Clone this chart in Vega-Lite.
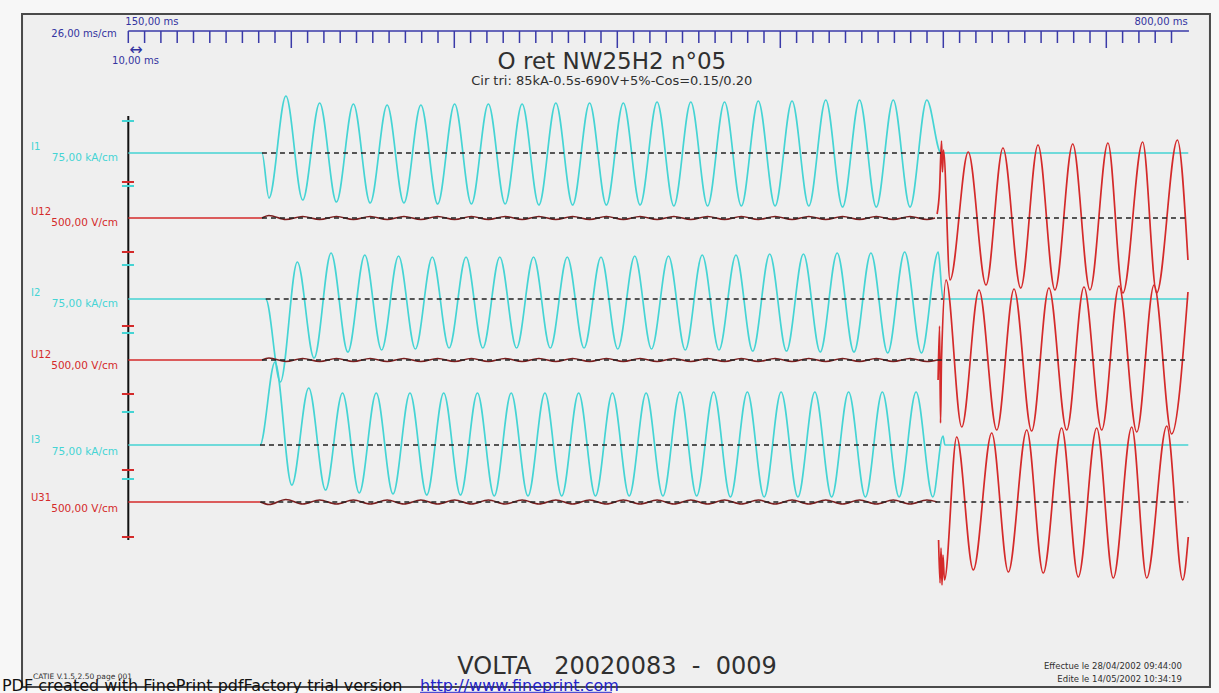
{
"$schema": "https://vega.github.io/schema/vega-lite/v6.json",
"width": 1219, "height": 693,
"autosize": {"type": "none"},
"padding": 0,
"background": "#f7f7f7",
"config": {"view": {"stroke": null}, "font": "DejaVu Sans"},
"datasets": {
  "frame": [{"t": 84.8, "t2": 813.6, "y": 14, "y2": 687}],
  "ruler": [{"t": 150, "t2": 800.7, "y": 31}],
  "minor": [{"t":150},{"t":160},{"t":170},{"t":180},{"t":190},{"t":200},{"t":210},{"t":220},{"t":230},{"t":240},{"t":260},{"t":270},{"t":280},{"t":290},{"t":300},{"t":310},{"t":320},{"t":330},{"t":340},{"t":360},{"t":370},{"t":380},{"t":390},{"t":400},{"t":410},{"t":420},{"t":430},{"t":440},{"t":460},{"t":470},{"t":480},{"t":490},{"t":500},{"t":510},{"t":520},{"t":530},{"t":540},{"t":560},{"t":570},{"t":580},{"t":590},{"t":600},{"t":610},{"t":620},{"t":630},{"t":640},{"t":660},{"t":670},{"t":680},{"t":690},{"t":700},{"t":710},{"t":720},{"t":730},{"t":740},{"t":760},{"t":770},{"t":780},{"t":790}],
  "major": [{"t":250},{"t":350},{"t":450},{"t":550},{"t":650},{"t":750}],
  "axisline": [{"t": 150, "y": 116, "y2": 540}],
  "scaleticks": [{"y":121,"k":"I"},{"y":186,"k":"I"},{"y":265,"k":"I"},{"y":333,"k":"I"},{"y":412,"k":"I"},{"y":479,"k":"I"},{"y":182,"k":"U"},{"y":252,"k":"U"},{"y":326,"k":"U"},{"y":394,"k":"U"},{"y":470,"k":"U"},{"y":537,"k":"U"}],
  "zeros": [{"t":232.0,"t2":648.6,"y":153},{"t":232.0,"t2":800.3,"y":218},{"t":234.3,"t2":649.8,"y":299},{"t":232.0,"t2":800.3,"y":360},{"t":230.8,"t2":649.8,"y":445},{"t":231.0,"t2":800.3,"y":502}],
  "traces": [
{"s":"I1","k":"I","t":150,"y":153},{"s":"I1","k":"I","t":232.0,"y":153},{"s":"I1","k":"I","t":236.3,"y":198},{"s":"I1","k":"I","t":246.7,"y":96},{"s":"I1","k":"I","t":257.0,"y":200},{"s":"I1","k":"I","t":267.4,"y":103},{"s":"I1","k":"I","t":277.7,"y":202},{"s":"I1","k":"I","t":288.1,"y":104},{"s":"I1","k":"I","t":298.4,"y":203},{"s":"I1","k":"I","t":308.8,"y":105},{"s":"I1","k":"I","t":319.1,"y":203},{"s":"I1","k":"I","t":329.5,"y":105},{"s":"I1","k":"I","t":339.8,"y":204},{"s":"I1","k":"I","t":350.2,"y":104},{"s":"I1","k":"I","t":360.5,"y":204},{"s":"I1","k":"I","t":370.9,"y":104},{"s":"I1","k":"I","t":381.2,"y":204},{"s":"I1","k":"I","t":391.6,"y":104},{"s":"I1","k":"I","t":401.9,"y":205},{"s":"I1","k":"I","t":412.3,"y":103},{"s":"I1","k":"I","t":422.6,"y":205},{"s":"I1","k":"I","t":433.0,"y":103},{"s":"I1","k":"I","t":443.3,"y":205},{"s":"I1","k":"I","t":453.7,"y":103},{"s":"I1","k":"I","t":464.0,"y":205},{"s":"I1","k":"I","t":474.4,"y":102},{"s":"I1","k":"I","t":484.7,"y":206},{"s":"I1","k":"I","t":495.1,"y":102},{"s":"I1","k":"I","t":505.4,"y":206},{"s":"I1","k":"I","t":515.8,"y":102},{"s":"I1","k":"I","t":526.1,"y":206},{"s":"I1","k":"I","t":536.5,"y":101},{"s":"I1","k":"I","t":546.8,"y":206},{"s":"I1","k":"I","t":557.2,"y":101},{"s":"I1","k":"I","t":567.5,"y":206},{"s":"I1","k":"I","t":577.9,"y":100},{"s":"I1","k":"I","t":588.2,"y":207},{"s":"I1","k":"I","t":598.6,"y":100},{"s":"I1","k":"I","t":608.9,"y":207},{"s":"I1","k":"I","t":619.3,"y":100},{"s":"I1","k":"I","t":629.6,"y":207},{"s":"I1","k":"I","t":639.9,"y":100},{"s":"I1","k":"I","t":648.6,"y":153},{"s":"I1","k":"I","t":800.3,"y":153},
{"s":"I2","k":"I","t":150,"y":299},{"s":"I2","k":"I","t":234.3,"y":299},{"s":"I2","k":"I","t":243.3,"y":382},{"s":"I2","k":"I","t":253.7,"y":262},{"s":"I2","k":"I","t":264.0,"y":358},{"s":"I2","k":"I","t":274.4,"y":253},{"s":"I2","k":"I","t":284.7,"y":352},{"s":"I2","k":"I","t":295.1,"y":255},{"s":"I2","k":"I","t":305.4,"y":350},{"s":"I2","k":"I","t":315.8,"y":256},{"s":"I2","k":"I","t":326.1,"y":349},{"s":"I2","k":"I","t":336.5,"y":257},{"s":"I2","k":"I","t":346.8,"y":348},{"s":"I2","k":"I","t":357.2,"y":257},{"s":"I2","k":"I","t":367.5,"y":348},{"s":"I2","k":"I","t":377.9,"y":257},{"s":"I2","k":"I","t":388.2,"y":348},{"s":"I2","k":"I","t":398.6,"y":257},{"s":"I2","k":"I","t":408.9,"y":348},{"s":"I2","k":"I","t":419.3,"y":257},{"s":"I2","k":"I","t":429.6,"y":348},{"s":"I2","k":"I","t":440.0,"y":257},{"s":"I2","k":"I","t":450.3,"y":349},{"s":"I2","k":"I","t":460.7,"y":256},{"s":"I2","k":"I","t":471.0,"y":349},{"s":"I2","k":"I","t":481.4,"y":256},{"s":"I2","k":"I","t":491.7,"y":350},{"s":"I2","k":"I","t":502.1,"y":255},{"s":"I2","k":"I","t":512.4,"y":350},{"s":"I2","k":"I","t":522.8,"y":255},{"s":"I2","k":"I","t":533.1,"y":351},{"s":"I2","k":"I","t":543.5,"y":254},{"s":"I2","k":"I","t":553.8,"y":351},{"s":"I2","k":"I","t":564.2,"y":254},{"s":"I2","k":"I","t":574.5,"y":352},{"s":"I2","k":"I","t":584.9,"y":253},{"s":"I2","k":"I","t":595.2,"y":352},{"s":"I2","k":"I","t":605.6,"y":253},{"s":"I2","k":"I","t":615.9,"y":353},{"s":"I2","k":"I","t":626.3,"y":252},{"s":"I2","k":"I","t":636.6,"y":353},{"s":"I2","k":"I","t":646.9,"y":252},{"s":"I2","k":"I","t":649.8,"y":299},{"s":"I2","k":"I","t":800.3,"y":299},
{"s":"I3","k":"I","t":150,"y":445},{"s":"I3","k":"I","t":230.8,"y":445},{"s":"I3","k":"I","t":240.0,"y":362},{"s":"I3","k":"I","t":250.3,"y":485},{"s":"I3","k":"I","t":260.7,"y":388},{"s":"I3","k":"I","t":271.0,"y":490},{"s":"I3","k":"I","t":281.4,"y":393},{"s":"I3","k":"I","t":291.7,"y":493},{"s":"I3","k":"I","t":302.1,"y":393},{"s":"I3","k":"I","t":312.4,"y":494},{"s":"I3","k":"I","t":322.8,"y":393},{"s":"I3","k":"I","t":333.1,"y":495},{"s":"I3","k":"I","t":343.5,"y":393},{"s":"I3","k":"I","t":353.8,"y":495},{"s":"I3","k":"I","t":364.2,"y":393},{"s":"I3","k":"I","t":374.5,"y":496},{"s":"I3","k":"I","t":384.9,"y":393},{"s":"I3","k":"I","t":395.2,"y":496},{"s":"I3","k":"I","t":405.6,"y":393},{"s":"I3","k":"I","t":415.9,"y":496},{"s":"I3","k":"I","t":426.3,"y":393},{"s":"I3","k":"I","t":436.6,"y":496},{"s":"I3","k":"I","t":447.0,"y":393},{"s":"I3","k":"I","t":457.3,"y":496},{"s":"I3","k":"I","t":467.7,"y":393},{"s":"I3","k":"I","t":478.0,"y":496},{"s":"I3","k":"I","t":488.4,"y":392},{"s":"I3","k":"I","t":498.7,"y":496},{"s":"I3","k":"I","t":509.1,"y":392},{"s":"I3","k":"I","t":519.4,"y":497},{"s":"I3","k":"I","t":529.8,"y":392},{"s":"I3","k":"I","t":540.1,"y":497},{"s":"I3","k":"I","t":550.5,"y":392},{"s":"I3","k":"I","t":560.8,"y":497},{"s":"I3","k":"I","t":571.2,"y":392},{"s":"I3","k":"I","t":581.5,"y":497},{"s":"I3","k":"I","t":591.9,"y":392},{"s":"I3","k":"I","t":602.2,"y":497},{"s":"I3","k":"I","t":612.6,"y":392},{"s":"I3","k":"I","t":622.9,"y":497},{"s":"I3","k":"I","t":633.3,"y":392},{"s":"I3","k":"I","t":643.6,"y":497},{"s":"I3","k":"I","t":649.8,"y":436},{"s":"I3","k":"I","t":651.0,"y":445},{"s":"I3","k":"I","t":800.3,"y":445},
{"s":"U1p","k":"U","t":150,"y":218},{"s":"U1p","k":"U","t":232.0,"y":218},
{"s":"U2p","k":"U","t":150,"y":360},{"s":"U2p","k":"U","t":232.0,"y":360},
{"s":"U3p","k":"U","t":150,"y":502},{"s":"U3p","k":"U","t":231.0,"y":502},
{"s":"U1a","k":"A","t":232.0,"y":218},{"s":"U1a","k":"A","t":236.3,"y":215.5},{"s":"U1a","k":"A","t":246.7,"y":219.5},{"s":"U1a","k":"A","t":257.0,"y":216.5},{"s":"U1a","k":"A","t":267.4,"y":219.5},{"s":"U1a","k":"A","t":277.7,"y":216.5},{"s":"U1a","k":"A","t":288.1,"y":219.5},{"s":"U1a","k":"A","t":298.4,"y":216.5},{"s":"U1a","k":"A","t":308.8,"y":219.5},{"s":"U1a","k":"A","t":319.1,"y":216.5},{"s":"U1a","k":"A","t":329.5,"y":219.5},{"s":"U1a","k":"A","t":339.8,"y":216.5},{"s":"U1a","k":"A","t":350.2,"y":219.5},{"s":"U1a","k":"A","t":360.5,"y":216.5},{"s":"U1a","k":"A","t":370.9,"y":219.5},{"s":"U1a","k":"A","t":381.2,"y":216.5},{"s":"U1a","k":"A","t":391.6,"y":219.5},{"s":"U1a","k":"A","t":401.9,"y":216.5},{"s":"U1a","k":"A","t":412.3,"y":219.5},{"s":"U1a","k":"A","t":422.6,"y":216.5},{"s":"U1a","k":"A","t":433.0,"y":219.5},{"s":"U1a","k":"A","t":443.3,"y":216.5},{"s":"U1a","k":"A","t":453.7,"y":219.5},{"s":"U1a","k":"A","t":464.0,"y":216.5},{"s":"U1a","k":"A","t":474.4,"y":219.5},{"s":"U1a","k":"A","t":484.7,"y":216.5},{"s":"U1a","k":"A","t":495.1,"y":219.5},{"s":"U1a","k":"A","t":505.4,"y":216.5},{"s":"U1a","k":"A","t":515.8,"y":219.5},{"s":"U1a","k":"A","t":526.1,"y":216.5},{"s":"U1a","k":"A","t":536.5,"y":219.5},{"s":"U1a","k":"A","t":546.8,"y":216.5},{"s":"U1a","k":"A","t":557.2,"y":219.5},{"s":"U1a","k":"A","t":567.5,"y":216.5},{"s":"U1a","k":"A","t":577.9,"y":219.5},{"s":"U1a","k":"A","t":588.2,"y":216.5},{"s":"U1a","k":"A","t":598.6,"y":219.5},{"s":"U1a","k":"A","t":608.9,"y":216.5},{"s":"U1a","k":"A","t":619.3,"y":219.5},{"s":"U1a","k":"A","t":629.6,"y":216.5},{"s":"U1a","k":"A","t":639.9,"y":219.5},{"s":"U1a","k":"A","t":644.9,"y":218},
{"s":"U2a","k":"A","t":232.0,"y":360},{"s":"U2a","k":"A","t":236.3,"y":358},{"s":"U2a","k":"A","t":246.7,"y":361.5},{"s":"U2a","k":"A","t":257.0,"y":358.5},{"s":"U2a","k":"A","t":267.4,"y":361.5},{"s":"U2a","k":"A","t":277.7,"y":358.5},{"s":"U2a","k":"A","t":288.1,"y":361.5},{"s":"U2a","k":"A","t":298.4,"y":358.5},{"s":"U2a","k":"A","t":308.8,"y":361.5},{"s":"U2a","k":"A","t":319.1,"y":358.5},{"s":"U2a","k":"A","t":329.5,"y":361.5},{"s":"U2a","k":"A","t":339.8,"y":358.5},{"s":"U2a","k":"A","t":350.2,"y":361.5},{"s":"U2a","k":"A","t":360.5,"y":358.5},{"s":"U2a","k":"A","t":370.9,"y":361.5},{"s":"U2a","k":"A","t":381.2,"y":358.5},{"s":"U2a","k":"A","t":391.6,"y":361.5},{"s":"U2a","k":"A","t":401.9,"y":358.5},{"s":"U2a","k":"A","t":412.3,"y":361.5},{"s":"U2a","k":"A","t":422.6,"y":358.5},{"s":"U2a","k":"A","t":433.0,"y":361.5},{"s":"U2a","k":"A","t":443.3,"y":358.5},{"s":"U2a","k":"A","t":453.7,"y":361.5},{"s":"U2a","k":"A","t":464.0,"y":358.5},{"s":"U2a","k":"A","t":474.4,"y":361.5},{"s":"U2a","k":"A","t":484.7,"y":358.5},{"s":"U2a","k":"A","t":495.1,"y":361.5},{"s":"U2a","k":"A","t":505.4,"y":358.5},{"s":"U2a","k":"A","t":515.8,"y":361.5},{"s":"U2a","k":"A","t":526.1,"y":358.5},{"s":"U2a","k":"A","t":536.5,"y":361.5},{"s":"U2a","k":"A","t":546.8,"y":358.5},{"s":"U2a","k":"A","t":557.2,"y":361.5},{"s":"U2a","k":"A","t":567.5,"y":358.5},{"s":"U2a","k":"A","t":577.9,"y":361.5},{"s":"U2a","k":"A","t":588.2,"y":358.5},{"s":"U2a","k":"A","t":598.6,"y":361.5},{"s":"U2a","k":"A","t":608.9,"y":358.5},{"s":"U2a","k":"A","t":619.3,"y":361.5},{"s":"U2a","k":"A","t":629.6,"y":358.5},{"s":"U2a","k":"A","t":639.9,"y":361.5},{"s":"U2a","k":"A","t":646.2,"y":360},
{"s":"U3a","k":"A","t":231.0,"y":502},{"s":"U3a","k":"A","t":236.3,"y":504.5},{"s":"U3a","k":"A","t":246.7,"y":499.5},{"s":"U3a","k":"A","t":257.0,"y":504},{"s":"U3a","k":"A","t":267.4,"y":500},{"s":"U3a","k":"A","t":277.7,"y":504},{"s":"U3a","k":"A","t":288.1,"y":500},{"s":"U3a","k":"A","t":298.4,"y":504},{"s":"U3a","k":"A","t":308.8,"y":500},{"s":"U3a","k":"A","t":319.1,"y":504},{"s":"U3a","k":"A","t":329.5,"y":500},{"s":"U3a","k":"A","t":339.8,"y":504},{"s":"U3a","k":"A","t":350.2,"y":500},{"s":"U3a","k":"A","t":360.5,"y":504},{"s":"U3a","k":"A","t":370.9,"y":500},{"s":"U3a","k":"A","t":381.2,"y":504},{"s":"U3a","k":"A","t":391.6,"y":500},{"s":"U3a","k":"A","t":401.9,"y":504},{"s":"U3a","k":"A","t":412.3,"y":500},{"s":"U3a","k":"A","t":422.6,"y":504},{"s":"U3a","k":"A","t":433.0,"y":500},{"s":"U3a","k":"A","t":443.3,"y":504},{"s":"U3a","k":"A","t":453.7,"y":500},{"s":"U3a","k":"A","t":464.0,"y":504},{"s":"U3a","k":"A","t":474.4,"y":500},{"s":"U3a","k":"A","t":484.7,"y":504},{"s":"U3a","k":"A","t":495.1,"y":500},{"s":"U3a","k":"A","t":505.4,"y":504},{"s":"U3a","k":"A","t":515.8,"y":500},{"s":"U3a","k":"A","t":526.1,"y":504},{"s":"U3a","k":"A","t":536.5,"y":500},{"s":"U3a","k":"A","t":546.8,"y":504},{"s":"U3a","k":"A","t":557.2,"y":500},{"s":"U3a","k":"A","t":567.5,"y":504},{"s":"U3a","k":"A","t":577.9,"y":500},{"s":"U3a","k":"A","t":588.2,"y":504},{"s":"U3a","k":"A","t":598.6,"y":500},{"s":"U3a","k":"A","t":608.9,"y":504},{"s":"U3a","k":"A","t":619.3,"y":500},{"s":"U3a","k":"A","t":629.6,"y":504},{"s":"U3a","k":"A","t":639.9,"y":500},{"s":"U3a","k":"A","t":646.2,"y":502},
{"s":"U1r","k":"U","t":646.2,"y":214},{"s":"U1r","k":"U","t":647.7,"y":190},{"s":"U1r","k":"U","t":648.9,"y":141},{"s":"U1r","k":"U","t":649.5,"y":172},{"s":"U1r","k":"U","t":650.1,"y":150},{"s":"U1r","k":"U","t":654.1,"y":280},{"s":"U1r","k":"U","t":665.3,"y":152},{"s":"U1r","k":"U","t":676.2,"y":285},{"s":"U1r","k":"U","t":686.6,"y":148},{"s":"U1r","k":"U","t":697.5,"y":288},{"s":"U1r","k":"U","t":708.1,"y":145},{"s":"U1r","k":"U","t":718.5,"y":290},{"s":"U1r","k":"U","t":729.4,"y":144},{"s":"U1r","k":"U","t":740.0,"y":290},{"s":"U1r","k":"U","t":751.0,"y":143},{"s":"U1r","k":"U","t":760.2,"y":293},{"s":"U1r","k":"U","t":772.3,"y":142},{"s":"U1r","k":"U","t":780.9,"y":293},{"s":"U1r","k":"U","t":793.6,"y":140},{"s":"U1r","k":"U","t":800.1,"y":260},
{"s":"U2r","k":"U","t":646.8,"y":380},{"s":"U2r","k":"U","t":647.7,"y":326},{"s":"U2r","k":"U","t":648.3,"y":423},{"s":"U2r","k":"U","t":648.9,"y":360},{"s":"U2r","k":"U","t":651.7,"y":280},{"s":"U2r","k":"U","t":661.3,"y":427},{"s":"U2r","k":"U","t":671.9,"y":290},{"s":"U2r","k":"U","t":682.8,"y":430},{"s":"U2r","k":"U","t":693.4,"y":289},{"s":"U2r","k":"U","t":704.2,"y":431},{"s":"U2r","k":"U","t":714.8,"y":288},{"s":"U2r","k":"U","t":725.7,"y":430},{"s":"U2r","k":"U","t":736.3,"y":287},{"s":"U2r","k":"U","t":747.2,"y":430},{"s":"U2r","k":"U","t":757.8,"y":286},{"s":"U2r","k":"U","t":768.7,"y":432},{"s":"U2r","k":"U","t":779.3,"y":285},{"s":"U2r","k":"U","t":790.1,"y":434},{"s":"U2r","k":"U","t":800.1,"y":292},
{"s":"U3r","k":"U","t":647.1,"y":540},{"s":"U3r","k":"U","t":648.0,"y":583},{"s":"U3r","k":"U","t":648.6,"y":548},{"s":"U3r","k":"U","t":649.2,"y":585},{"s":"U3r","k":"U","t":649.8,"y":555},{"s":"U3r","k":"U","t":650.7,"y":580},{"s":"U3r","k":"U","t":658.2,"y":437},{"s":"U3r","k":"U","t":668.4,"y":570},{"s":"U3r","k":"U","t":679.7,"y":433},{"s":"U3r","k":"U","t":689.9,"y":572},{"s":"U3r","k":"U","t":701.2,"y":430},{"s":"U3r","k":"U","t":711.3,"y":573},{"s":"U3r","k":"U","t":722.6,"y":428},{"s":"U3r","k":"U","t":732.8,"y":577},{"s":"U3r","k":"U","t":744.1,"y":428},{"s":"U3r","k":"U","t":754.3,"y":578},{"s":"U3r","k":"U","t":765.6,"y":427},{"s":"U3r","k":"U","t":774.8,"y":578},{"s":"U3r","k":"U","t":787.1,"y":426},{"s":"U3r","k":"U","t":796.9,"y":580},{"s":"U3r","k":"U","t":800.3,"y":537}
  ],
  "bluetext": [{"t":164.5,"y":22,"text":"150,00 ms"},{"t":783.6,"y":22,"text":"800,00 ms"},{"t":122.8,"y":34,"text":"26,00 ms/cm"},{"t":154.4,"y":61,"text":"10,00 ms"}],
  "arrow": [{"t":154.7,"y":50,"text":"↔"}],
  "title": [{"t":446.7,"y":62,"text":"O ret NW25H2 n°05"}],
  "subtitle": [{"t":446.6,"y":81,"text":"Cir tri: 85kA-0.5s-690V+5%-Cos=0.15/0.20"}],
  "chanleft": [{"t":90.3,"y":147,"text":"I1","k":"I"},{"t":90.3,"y":212,"text":"U12","k":"U"},{"t":90.3,"y":293,"text":"I2","k":"I"},{"t":90.3,"y":355,"text":"U12","k":"U"},{"t":90.3,"y":440,"text":"I3","k":"I"},{"t":90.3,"y":498,"text":"U31","k":"U"}],
  "chanright": [{"t":143.7,"y":158,"text":"75,00 kA/cm","k":"I"},{"t":143.7,"y":223,"text":"500,00 V/cm","k":"U"},{"t":143.7,"y":304,"text":"75,00 kA/cm","k":"I"},{"t":143.7,"y":366,"text":"500,00 V/cm","k":"U"},{"t":143.7,"y":452,"text":"75,00 kA/cm","k":"I"},{"t":143.7,"y":509,"text":"500,00 V/cm","k":"U"}],
  "volta": [{"t":449.8,"y":667,"text":"VOLTA\u00a0\u00a0\u00a020020083\u00a0\u00a0-\u00a0\u00a00009"}],
  "catie": [{"t":91.5,"y":677,"text":"CATIE V.1.5.2.50 page 001"}],
  "dates": [{"t":796.4,"y":666,"text":"Effectue le 28/04/2002 09:44:00"},{"t":796.4,"y":679,"text":"Edite le 14/05/2002 10:34:19"}],
  "pdf": [{"t":72.5,"y":691,"text":"PDF created with FinePrint pdfFactory trial version"}],
  "link": [{"t":329.0,"y":691,"text":"http://www.fineprint.com"}],
  "linkline": [{"t":329.0,"t2":446.7,"y":692.3}]
},
"layer": [
  {"data": {"name": "frame"}, "mark": {"type": "rect", "fill": "#efefef", "stroke": "#4a4a4a", "strokeWidth": 2},
   "encoding": {"x": {"field": "t", "type": "quantitative", "scale": {"domain": [71.29, 819.14], "nice": false, "zero": false}, "axis": null}, "x2": {"field": "t2"}, "y": {"field": "y", "type": "quantitative", "scale": {"domain": [693, 0], "nice": false, "zero": false}, "axis": null}, "y2": {"field": "y2"}}},
  {"data": {"name": "ruler"}, "mark": {"type": "rule", "color": "#3a3aa8", "strokeWidth": 1.5},
   "encoding": {"x": {"field": "t", "type": "quantitative"}, "x2": {"field": "t2"}, "y": {"field": "y", "type": "quantitative"}}},
  {"data": {"name": "minor"}, "mark": {"type": "rule", "color": "#3a3aa8", "strokeWidth": 1.5},
   "encoding": {"x": {"field": "t", "type": "quantitative"}, "y": {"datum": 31, "type": "quantitative"}, "y2": {"datum": 43}}},
  {"data": {"name": "major"}, "mark": {"type": "rule", "color": "#3a3aa8", "strokeWidth": 1.5},
   "encoding": {"x": {"field": "t", "type": "quantitative"}, "y": {"datum": 31, "type": "quantitative"}, "y2": {"datum": 48}}},
  {"data": {"name": "axisline"}, "mark": {"type": "rule", "color": "#111111", "strokeWidth": 2},
   "encoding": {"x": {"field": "t", "type": "quantitative"}, "y": {"field": "y", "type": "quantitative"}, "y2": {"field": "y2"}}},
  {"data": {"name": "scaleticks"}, "mark": {"type": "rule", "strokeWidth": 2},
   "encoding": {"x": {"datum": 146.1, "type": "quantitative"}, "x2": {"datum": 153.5}, "y": {"field": "y", "type": "quantitative"}, "color": {"field": "k", "type": "nominal", "scale": {"domain": ["I", "U", "A"], "range": ["#45d4d4", "#d42a2a", "#7a1f1f"]}, "legend": null}}},
  {"data": {"name": "traces"}, "mark": {"type": "line", "interpolate": "monotone", "strokeWidth": 1.7},
   "encoding": {"x": {"field": "t", "type": "quantitative"}, "y": {"field": "y", "type": "quantitative"}, "detail": {"field": "s"}, "color": {"field": "k", "type": "nominal", "scale": {"domain": ["I", "U", "A"], "range": ["#45d4d4", "#d42a2a", "#7a1f1f"]}, "legend": null}}},
  {"data": {"name": "zeros"}, "mark": {"type": "rule", "color": "#222222", "strokeWidth": 1.3, "strokeDash": [5, 4]},
   "encoding": {"x": {"field": "t", "type": "quantitative"}, "x2": {"field": "t2"}, "y": {"field": "y", "type": "quantitative"}}},
  {"data": {"name": "bluetext"}, "mark": {"type": "text", "fontSize": 10, "color": "#3333a0", "align": "center", "baseline": "middle"},
   "encoding": {"x": {"field": "t", "type": "quantitative"}, "y": {"field": "y", "type": "quantitative"}, "text": {"field": "text"}}},
  {"data": {"name": "arrow"}, "mark": {"type": "text", "fontSize": 16, "color": "#3333a0", "align": "center", "baseline": "middle"},
   "encoding": {"x": {"field": "t", "type": "quantitative"}, "y": {"field": "y", "type": "quantitative"}, "text": {"field": "text"}}},
  {"data": {"name": "title"}, "mark": {"type": "text", "fontSize": 23, "color": "#303030", "align": "center", "baseline": "middle"},
   "encoding": {"x": {"field": "t", "type": "quantitative"}, "y": {"field": "y", "type": "quantitative"}, "text": {"field": "text"}}},
  {"data": {"name": "subtitle"}, "mark": {"type": "text", "fontSize": 13, "color": "#303030", "align": "center", "baseline": "middle"},
   "encoding": {"x": {"field": "t", "type": "quantitative"}, "y": {"field": "y", "type": "quantitative"}, "text": {"field": "text"}}},
  {"data": {"name": "chanleft"}, "mark": {"type": "text", "fontSize": 10, "align": "left", "baseline": "middle"},
   "encoding": {"x": {"field": "t", "type": "quantitative"}, "y": {"field": "y", "type": "quantitative"}, "text": {"field": "text"}, "color": {"field": "k", "type": "nominal", "scale": {"domain": ["I", "U", "A"], "range": ["#45d4d4", "#d42a2a", "#7a1f1f"]}, "legend": null}}},
  {"data": {"name": "chanright"}, "mark": {"type": "text", "fontSize": 10.5, "align": "right", "baseline": "middle"},
   "encoding": {"x": {"field": "t", "type": "quantitative"}, "y": {"field": "y", "type": "quantitative"}, "text": {"field": "text"}, "color": {"field": "k", "type": "nominal", "scale": {"domain": ["I", "U", "A"], "range": ["#45d4d4", "#d42a2a", "#7a1f1f"]}, "legend": null}}},
  {"data": {"name": "volta"}, "mark": {"type": "text", "fontSize": 24, "color": "#303030", "align": "center", "baseline": "middle"},
   "encoding": {"x": {"field": "t", "type": "quantitative"}, "y": {"field": "y", "type": "quantitative"}, "text": {"field": "text"}}},
  {"data": {"name": "catie"}, "mark": {"type": "text", "fontSize": 7.5, "color": "#303030", "align": "left", "baseline": "middle"},
   "encoding": {"x": {"field": "t", "type": "quantitative"}, "y": {"field": "y", "type": "quantitative"}, "text": {"field": "text"}}},
  {"data": {"name": "dates"}, "mark": {"type": "text", "fontSize": 8.5, "color": "#303030", "align": "right", "baseline": "middle"},
   "encoding": {"x": {"field": "t", "type": "quantitative"}, "y": {"field": "y", "type": "quantitative"}, "text": {"field": "text"}}},
  {"data": {"name": "pdf"}, "mark": {"type": "text", "fontSize": 16, "color": "#111111", "align": "left", "baseline": "alphabetic"},
   "encoding": {"x": {"field": "t", "type": "quantitative"}, "y": {"field": "y", "type": "quantitative"}, "text": {"field": "text"}}},
  {"data": {"name": "link"}, "mark": {"type": "text", "fontSize": 16, "color": "#2323c8", "align": "left", "baseline": "alphabetic"},
   "encoding": {"x": {"field": "t", "type": "quantitative"}, "y": {"field": "y", "type": "quantitative"}, "text": {"field": "text"}}},
  {"data": {"name": "linkline"}, "mark": {"type": "rule", "color": "#2323c8", "strokeWidth": 1},
   "encoding": {"x": {"field": "t", "type": "quantitative"}, "x2": {"field": "t2"}, "y": {"field": "y", "type": "quantitative"}}}
]
}
